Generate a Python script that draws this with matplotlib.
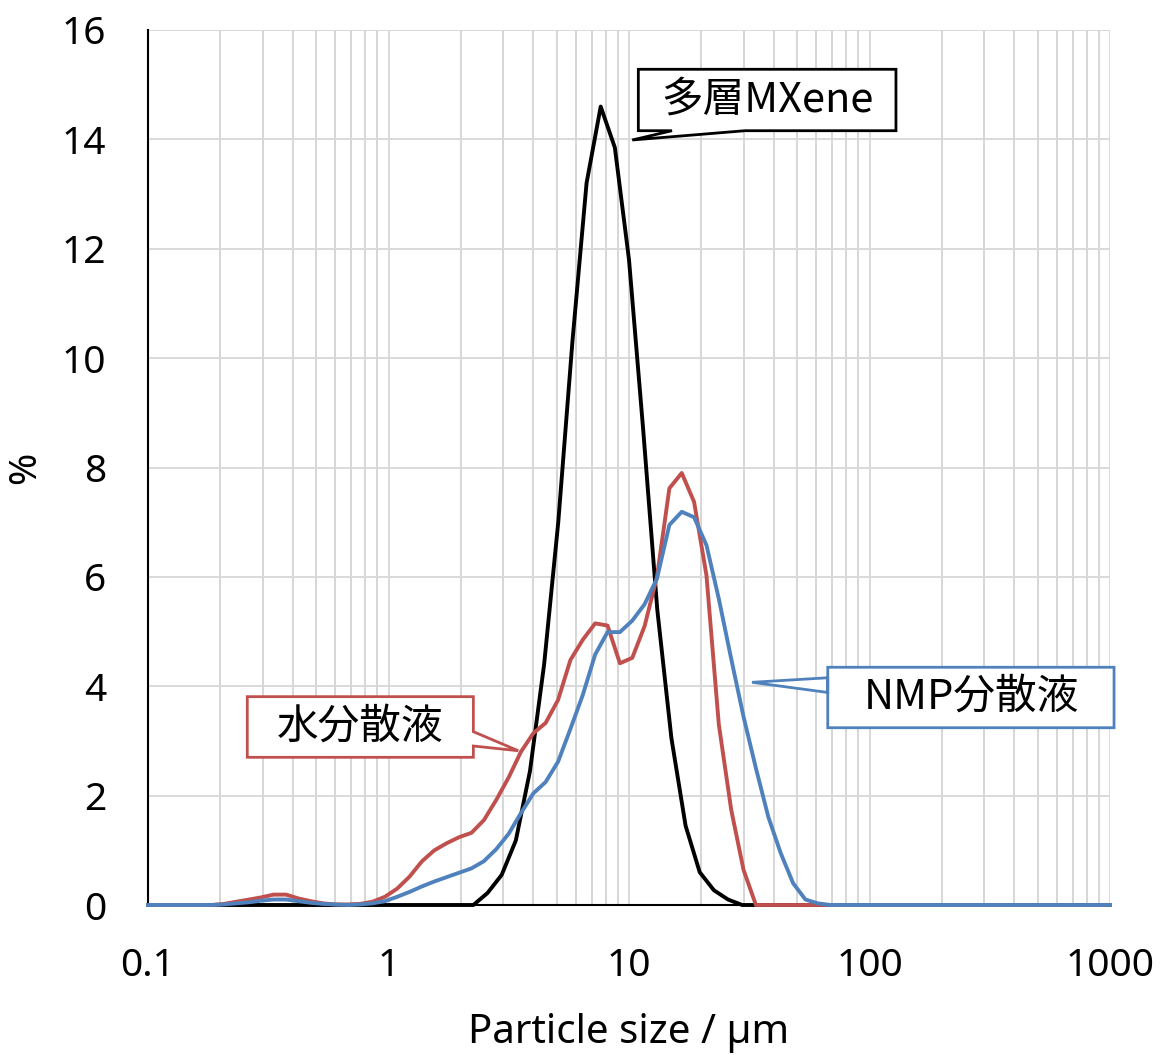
import matplotlib
matplotlib.use("Agg")
import matplotlib.pyplot as plt
from matplotlib.patches import Polygon
from matplotlib.ticker import LogLocator, FixedLocator, NullFormatter

plt.rcParams['font.family'] = ['Noto Sans', 'Noto Sans CJK JP', 'DejaVu Sans']

# particle size bins (um) and frequency (%) for the dry multilayer powder
mx_size = [0.1, 2.254, 2.581, 2.955, 3.384, 3.875, 4.437, 5.080, 5.817, 6.661,
           7.627, 8.733, 10.0, 11.45, 13.11, 15.01, 17.19, 19.68, 22.54, 25.81,
           29.56, 1000]
mx_pct = [0, 0, 0.22, 0.55, 1.18, 2.45, 4.4, 7.0, 10.3, 13.2,
          14.6, 13.85, 11.8, 8.7, 5.4, 3.05, 1.45, 0.6, 0.27, 0.1,
          0, 0]

# bins used for the two dispersions
disp_size = [0.1,
             0.184, 0.207, 0.233, 0.263, 0.296, 0.333, 0.375, 0.422, 0.475, 0.534,
             0.601, 0.677, 0.762, 0.858, 0.966, 1.087, 1.224, 1.378, 1.551, 1.746,
             1.966, 2.213, 2.491, 2.804, 3.157, 3.553, 4.000, 4.503, 5.070, 5.707,
             6.424, 7.233, 8.142, 9.165, 10.32, 11.61, 13.07, 14.72, 16.57, 18.65,
             20.99, 23.63, 26.61, 29.95, 33.71, 37.96, 42.73, 48.10, 54.15, 60.95,
             68.62, 77.24,
             1000]
water_pct = [0,
             0, 0.02, 0.06, 0.10, 0.14, 0.19, 0.19, 0.12, 0.07, 0.03,
             0.01, 0.01, 0.02, 0.06, 0.15, 0.30, 0.52, 0.80, 1.00, 1.13,
             1.24, 1.32, 1.55, 1.92, 2.33, 2.80, 3.14, 3.33, 3.75, 4.48,
             4.85, 5.15, 5.11, 4.42, 4.52, 5.10, 6.00, 7.62, 7.90, 7.37,
             6.03, 3.30, 1.74, 0.64, 0, 0, 0, 0, 0, 0,
             0, 0,
             0]
nmp_pct = [0,
           0, 0.01, 0.03, 0.05, 0.08, 0.10, 0.10, 0.07, 0.04, 0.02,
           0.01, 0, 0.01, 0.03, 0.07, 0.15, 0.24, 0.34, 0.43, 0.51,
           0.59, 0.67, 0.80, 1.02, 1.30, 1.68, 2.04, 2.25, 2.62, 3.22,
           3.84, 4.58, 4.99, 4.99, 5.20, 5.50, 5.97, 6.95, 7.19, 7.09,
           6.58, 5.60, 4.50, 3.44, 2.50, 1.61, 0.95, 0.40, 0.10, 0.03,
           0, 0,
           0]

x_ticks = [0.1, 1, 10, 100, 1000]
x_ticklabels = ['0.1', '1', '10', '100', '1000']
y_ticks = [0, 2, 4, 6, 8, 10, 12, 14, 16]

c_black = '#000000'
c_red = '#c0504d'
c_blue = '#4f81bd'

fig = plt.figure(figsize=(11.6, 10.55), dpi=100)
ax = fig.add_axes([148 / 1160, 1 - 905 / 1055, 962 / 1160, 875 / 1055])

ax.plot(mx_size, mx_pct, color=c_black, lw=2.8, zorder=3, clip_on=False)
ax.plot(disp_size, water_pct, color=c_red, lw=2.8, zorder=4, clip_on=False)
ax.plot(disp_size, nmp_pct, color=c_blue, lw=2.8, zorder=5, clip_on=False)

ax.set_xscale('log')
ax.set_xlim(0.1, 1000)
ax.set_ylim(0, 16)
ax.xaxis.set_major_locator(FixedLocator(x_ticks))
ax.set_xticklabels(x_ticklabels)
ax.xaxis.set_minor_locator(LogLocator(base=10, subs=range(2, 10)))
ax.xaxis.set_minor_formatter(NullFormatter())
ax.set_yticks(y_ticks)

ax.grid(True, which='major', color='#d9d9d9', lw=1.4, zorder=0)
ax.grid(True, which='minor', axis='x', color='#d0d0d0', lw=1.2, zorder=0)
ax.set_axisbelow(True)

for side in ('top', 'right'):
    ax.spines[side].set_visible(False)
for side in ('left', 'bottom'):
    ax.spines[side].set_color('black')
    ax.spines[side].set_linewidth(1.5)
    ax.spines[side].set_zorder(2)

ax.tick_params(which='both', length=0)
ax.tick_params(axis='y', labelsize=28, pad=30)
ax.tick_params(axis='x', labelsize=28, pad=30)

ax.set_xlabel('Particle size / µm', fontsize=29)
ax.set_ylabel('%', fontsize=28)
ax.xaxis.label.set_va('center')
ax.xaxis.set_label_coords(0.5, -0.146)
ax.yaxis.label.set_va('center')
ax.yaxis.set_label_coords(-0.128, 0.5)


def callout(box, base, tip, text, color, side):
    # wedge-shaped callout, all coordinates in axes fraction
    x0, y0, x1, y1 = box
    b0, b1 = base
    if side == 'bottom':
        pts = [(x0, y1), (x1, y1), (x1, y0), (b1, y0), tip, (b0, y0), (x0, y0)]
    elif side == 'right':
        pts = [(x0, y1), (x1, y1), (x1, b0), tip, (x1, b1), (x1, y0), (x0, y0)]
    else:
        pts = [(x0, y1), (x1, y1), (x1, y0), (x0, y0), (x0, b1), tip, (x0, b0)]
    ax.add_patch(Polygon(pts, closed=True, transform=ax.transAxes,
                         facecolor='white', edgecolor=color, lw=2,
                         zorder=7, clip_on=False))
    ax.text((x0 + x1) / 2, (y0 + y1) / 2, text, transform=ax.transAxes,
            ha='center', va='center', fontsize=30, zorder=8,
            family=['Noto Sans CJK JP', 'DejaVu Sans'])


callout((0.5097, 0.8849, 0.7775, 0.9551), (0.5447, 0.6206), (0.5034, 0.8743),
        '多層MXene', c_black, 'bottom')
callout((0.1032, 0.1688, 0.3382, 0.2381), (0.1981, 0.1817), (0.3849, 0.1763),
        '水分散液', c_red, 'right')
callout((0.7066, 0.2026, 1.0042, 0.2717), (0.2429, 0.2597), (0.6279, 0.2545),
        'NMP分散液', c_blue, 'left')

fig.savefig('out.png', dpi=100)
